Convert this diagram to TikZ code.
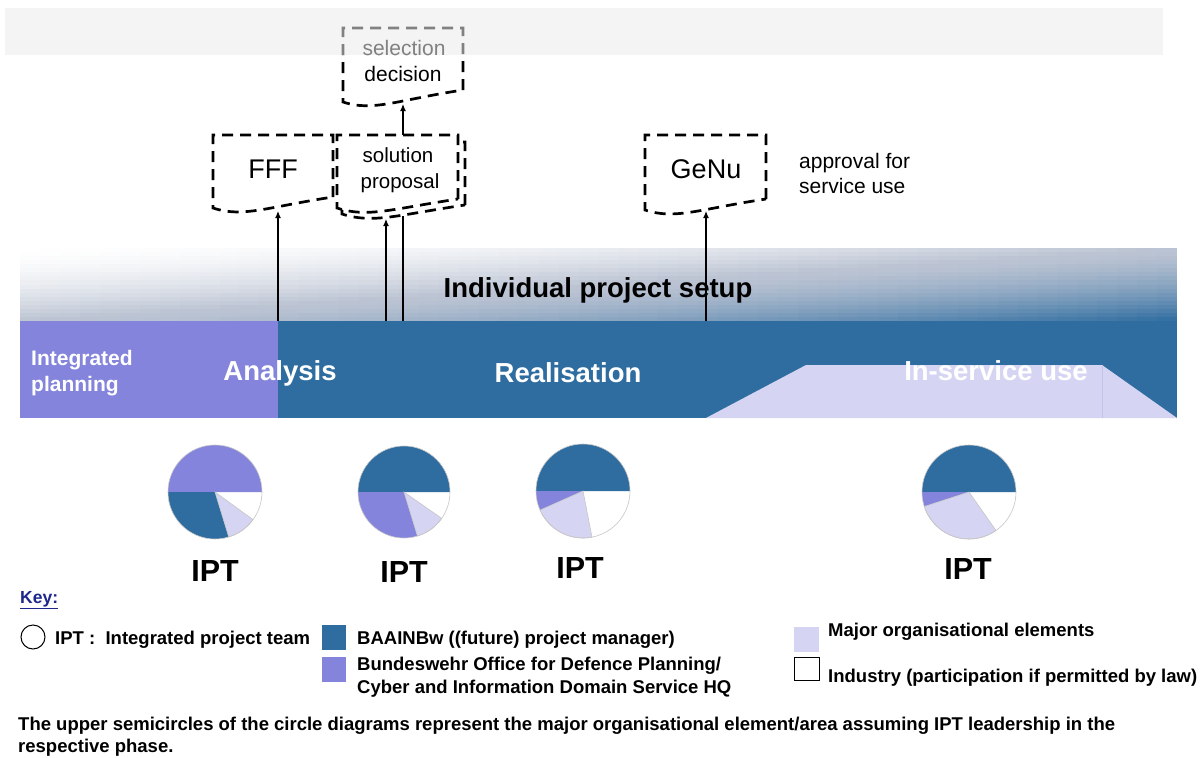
\documentclass[tikz,border=0pt]{standalone}
\usepackage{fontspec}
\setmainfont{Liberation Sans}
\usetikzlibrary{arrows.meta}
\definecolor{dblue}{RGB}{47,109,160}
\definecolor{gb}{RGB}{188,196,211}
\definecolor{purp}{RGB}{132,132,220}
\definecolor{lav}{RGB}{213,213,243}
\definecolor{lavline}{RGB}{196,196,234}
\definecolor{keyblue}{RGB}{30,40,140}
\definecolor{topband}{RGB}{235,235,235}
\newcommand{\fs}[1]{\fontsize{#1}{#1}\selectfont}
\newcommand{\docshape}[6][]{%
  \draw[docbox,#1] (#4,#6) -- (#4,#3) -- (#2,#3) -- (#2,#5)
    .. controls ({#2+0.25*(#4-#2)},{#5+10}) and ({#2+0.45*(#4-#2)},{#6+10}) .. (#4,#6);}
\newcommand{\setbandcol}[2]{%
  \pgfmathsetmacro{\sval}{#2}%
  \ifdim\sval pt>1pt
    \pgfmathsetmacro{\mypc}{100*exp(1.45*ln(\sval-1+0.00001))}%
    \colorlet{#1}{dblue!\mypc!gb}%
  \else
    \pgfmathsetmacro{\mypc}{100*exp(1.7*ln(\sval+0.00001))}%
    \colorlet{#1}{gb!\mypc!white}%
  \fi}
\begin{document}
\begin{tikzpicture}[x=1pt,y=-1pt,
  txt/.style={inner sep=0pt, anchor=base},
  txtw/.style={inner sep=0pt, anchor=base west},
  docbox/.style={draw=black, line width=2.7pt, dash pattern=on 11pt off 7pt},
  arr/.style={-{Latex[length=7pt,width=6pt]}, line width=1.2pt},
  plain/.style={line width=1.2pt},
  band/.style={white, font=\fs{27.5}\bfseries},
  ipt/.style={txt, font=\fs{30.5}\bfseries},
  leg/.style={txtw, font=\fs{18.5}\bfseries},
  pieedge/.style={draw=gray!45, line width=0.6pt}]
\fill[white] (0,0) rectangle (1203,758);
\useasboundingbox (0,0) rectangle (1203,758);

% gradient band (grid of solid cells)
\foreach \i in {0,...,57}{
  \foreach \j in {0,...,17}{
    \pgfmathsetmacro{\xa}{20+\i*19.95}
    \pgfmathsetmacro{\xb}{min(1177,\xa+20.5)}
    \pgfmathsetmacro{\ya}{248+\j*73/18}
    \pgfmathsetmacro{\yb}{min(321,\ya+4.6)}
    \pgfmathsetmacro{\sv}{(\i+0.5)/58+(\j+0.5)/18}
    \setbandcol{cellcol}{\sv}
    \fill[cellcol] (\xa,\ya) rectangle (\xb,\yb);
  }
}
% phase band
\fill[purp] (20,321) rectangle (278,418);
\fill[dblue] (278,321) rectangle (1177,418);
\fill[lav] (706,418) -- (806,365) -- (1102,365) -- (1177,418) -- cycle;
\draw[lavline, line width=0.8pt] (1102,365) -- (1102,418);

\node[txt, font=\fs{27.5}\bfseries] (setup) at (598,297) {Individual project setup};
\node[txtw, band, font=\fs{21}\bfseries] (integ1) at (31,365) {Integrated};
\node[txtw, band, font=\fs{21}\bfseries] (integ2) at (31,391) {planning};
\node[txt, band] (analysis) at (280,380) {Analysis};
\node[txt, band] (real) at (568,382) {Realisation};
\node[txt, band] (inserv) at (996,380) {In-service use};

% connector coordinates
\coordinate (s1) at (278,321);
\coordinate (s2) at (386,321);
\coordinate (s3) at (403,321);
\coordinate (s4) at (706,321);
\coordinate (fffb) at (278,211);
\coordinate (solb) at (386,219);
\coordinate (solb2) at (403,216);
\coordinate (solt) at (403,135);
\coordinate (selb) at (403,104);
\coordinate (genub) at (706,211);

% document boxes
\docshape{213}{135}{333}{208}{197}
\docshape{342}{142}{465}{214}{205}
\docshape[fill=white]{337}{135}{458}{208}{199}
\docshape{343}{28}{463}{102}{90}
\docshape{645}{135}{766}{210}{199}

% arrows
\draw[arr] (s1) -- (fffb);
\draw[arr] (s2) -- (solb);
\draw[plain] (s3) -- (solb2);
\draw[arr] (solt) -- (selb);
\draw[arr] (s4) -- (genub);

% box texts
\node[txt, font=\fs{27}] (fff) at (273,178) {FFF};
\node[txt, font=\fs{27}] (genu) at (706,178) {GeNu};
\node[txt, font=\fs{20.5}] (sol1) at (398,162) {solution};
\node[txt, font=\fs{20.5}] (sol2) at (400,188) {proposal};
\node[txt, font=\fs{21}] (sel1) at (404,55) {selection};
\node[txt, font=\fs{21}] (sel2) at (403,81) {decision};
\node[txtw, font=\fs{21}] (appr1) at (799,168) {approval for};
\node[txtw, font=\fs{21}] (appr2) at (799,193) {service use};

% top overlay band
\fill[topband, opacity=0.55] (5,8) rectangle (1163,55);

% pies
\begin{scope}[shift={(215,492)}]
  \fill[purp] (0,0) -- (0:47pt) arc[start angle=0, end angle=180, radius=47pt] -- cycle;
  \fill[dblue] (0,0) -- (180:47pt) arc[start angle=180, end angle=287, radius=47pt] -- cycle;
  \fill[lav, pieedge] (0,0) -- (287:47pt) arc[start angle=287, end angle=324, radius=47pt] -- cycle;
  \draw[pieedge] (0,0) circle[radius=47pt];
\end{scope}
\begin{scope}[shift={(404,492)}]
  \fill[dblue] (0,0) -- (0:46pt) arc[start angle=0, end angle=180, radius=46pt] -- cycle;
  \fill[purp] (0,0) -- (180:46pt) arc[start angle=180, end angle=287, radius=46pt] -- cycle;
  \fill[lav, pieedge] (0,0) -- (287:46pt) arc[start angle=287, end angle=325, radius=46pt] -- cycle;
  \draw[pieedge] (0,0) circle[radius=46pt];
\end{scope}
\begin{scope}[shift={(583,491)}]
  \fill[dblue] (0,0) -- (0:47pt) arc[start angle=0, end angle=180, radius=47pt] -- cycle;
  \fill[purp] (0,0) -- (180:47pt) arc[start angle=180, end angle=204, radius=47pt] -- cycle;
  \fill[lav, pieedge] (0,0) -- (204:47pt) arc[start angle=204, end angle=281, radius=47pt] -- cycle;
  \draw[pieedge] (0,0) circle[radius=47pt];
\end{scope}
\begin{scope}[shift={(969,492)}]
  \fill[dblue] (0,0) -- (0:47pt) arc[start angle=0, end angle=180, radius=47pt] -- cycle;
  \fill[purp] (0,0) -- (180:47pt) arc[start angle=180, end angle=198, radius=47pt] -- cycle;
  \fill[lav, pieedge] (0,0) -- (198:47pt) arc[start angle=198, end angle=305, radius=47pt] -- cycle;
  \draw[pieedge] (0,0) circle[radius=47pt];
\end{scope}
\node[ipt] (ipt1) at (215,581) {IPT};
\node[ipt] (ipt2) at (404,582) {IPT};
\node[ipt] (ipt3) at (580,578) {IPT};
\node[ipt] (ipt4) at (968,579) {IPT};

% key
\node[txtw, font=\fs{17.5}\bfseries, text=keyblue] (key) at (20,603) {\underline{Key:}};
\draw[line width=1pt] (33,637) circle[radius=12pt];
\node[leg] (l1) at (55,644) {IPT :\ \ Integrated project team};
\fill[dblue] (322,625) rectangle (346,650);
\fill[purp] (322,657) rectangle (346,682);
\fill[lav] (794,627) rectangle (819,652);
\draw[line width=0.9pt] (794,657) rectangle (819,680);
\node[leg] (l2) at (357,644) {BAAINBw ((future) project manager)};
\node[leg] (l3a) at (357,670) {Bundeswehr Office for Defence Planning/};
\node[leg] (l3b) at (357,693) {Cyber and Information Domain Service HQ};
\node[leg] (l4) at (828,636) {Major organisational elements};
\node[leg] (l5) at (828,682) {Industry (participation if permitted by law)};

\node[txtw, font=\fs{18.5}\bfseries] (foot1) at (18,730) {The upper semicircles of the circle diagrams represent the major organisational element/area assuming IPT leadership in the};
\node[txtw, font=\fs{18.5}\bfseries] (foot2) at (18,752) {respective phase.};
\end{tikzpicture}
\end{document}
